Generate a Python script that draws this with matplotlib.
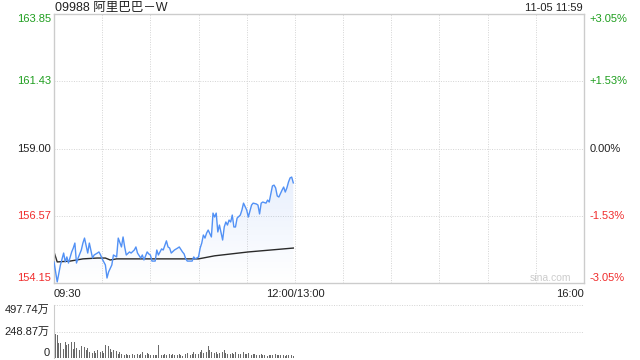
import numpy as np
import matplotlib
matplotlib.use("Agg")
import matplotlib.pyplot as plt
from matplotlib.path import Path
from matplotlib.patches import PathPatch
from matplotlib.transforms import blended_transform_factory

plt.rcParams['font.family'] = ['Liberation Sans', 'Noto Sans CJK SC']

# minutes after 09:30, lunch break squeezed out (12:00 and 13:00 share x=150)
minutes = [0, 2, 4, 6, 7, 8, 9, 11, 12, 13, 14, 15, 17, 18, 19, 21, 22, 24, 25, 27,
           28, 29, 30, 32, 33, 34, 36, 37, 39, 40, 42, 43, 44, 45, 47, 48, 50, 51, 52, 54,
           55, 56, 58, 59, 60, 61, 63, 64, 65, 67, 68, 70, 71, 72, 73, 75, 77, 78, 80, 81,
           82, 83, 86, 87, 88, 90, 91, 92, 93, 94, 95, 96, 98, 99, 100, 101, 102, 103, 105, 106,
           107, 108, 109, 110, 111, 112, 113, 114, 116, 117, 118, 120, 121, 123, 124, 126, 127, 128, 129, 130,
           132, 133, 134, 136, 137, 138, 139, 140, 142, 143, 144, 145, 146, 147, 148, 149]
prices = [154.91, 154.19, 154.80, 155.23, 154.91, 155.09, 154.87, 155.27, 155.41, 155.59,
          154.87, 155.05, 155.34, 155.59, 155.77, 155.23, 155.59, 155.05, 155.16, 155.23,
          155.27, 155.16, 155.02, 154.80, 154.33, 154.55, 154.80, 155.16, 155.09, 155.77,
          155.45, 155.81, 155.45, 155.16, 155.27, 155.23, 155.34, 155.45, 155.23, 155.05,
          155.16, 154.98, 155.27, 155.20, 155.16, 154.94, 154.94, 155.34, 155.16, 155.38,
          155.34, 155.67, 155.45, 155.41, 155.23, 155.34, 155.41, 155.45, 155.27, 155.20,
          155.02, 154.94, 154.94, 155.09, 155.02, 155.09, 155.41, 155.59, 155.88, 155.77,
          155.95, 156.06, 155.81, 156.67, 156.53, 156.67, 155.99, 156.24, 155.70, 156.17,
          156.35, 156.24, 156.42, 156.35, 156.60, 156.17, 156.17, 156.49, 156.60, 156.78,
          157.03, 156.78, 156.53, 156.96, 157.03, 157.00, 156.96, 156.64, 157.03, 157.07,
          157.03, 157.14, 157.07, 157.65, 157.68, 157.58, 157.29, 157.25, 157.50, 157.61,
          157.43, 157.58, 157.79, 157.94, 157.97, 157.76]

avg_minutes = [0, 2, 10, 18, 27, 32, 35, 39, 54, 90, 100, 121, 149]
avg_prices = [155.27, 154.91, 154.94, 155.02, 155.05, 155.05, 154.98, 155.02, 155.02, 155.02,
              155.13, 155.27, 155.41]

# volume per minute, in 万 shares
volumes = [497.74, 229, 219, 144, 141, 141, 88, 150, 119, 135,
           103, 150, 88, 150, 94, 103, 72, 110, 88, 103,
           72, 94, 56, 72, 47, 66, 47, 78, 47, 56,
           66, 47, 119, 135, 110, 88, 56, 72, 47, 66,
           41, 56, 34, 47, 25, 41, 31, 25, 47, 34,
           25, 31, 41, 25, 34, 56, 25, 31, 47, 41,
           25, 34, 25, 31, 25, 119, 41, 31, 25, 34,
           25, 31, 41, 25, 34, 25, 16, 25, 34, 25,
           16, 25, 34, 47, 25, 31, 41, 56, 34, 47,
           41, 56, 72, 47, 88, 56, 110, 72, 56, 72,
           47, 56, 34, 47, 41, 56, 72, 47, 34, 56,
           41, 47, 34, 56, 72, 41, 34, 47, 56, 41,
           34, 47, 31, 25, 41, 34, 25, 31, 25, 34,
           25, 31, 25, 16, 25, 31, 25, 56, 34, 25,
           31, 25, 34, 25, 16, 25, 31, 16, 25, 16]

price_ticks = [163.85, 161.43, 159.00, 156.57, 154.15]
pct_labels = ['+3.05%', '+1.53%', '0.00%', '-1.53%', '-3.05%']
tick_colors = ['#1f9e1f', '#1f9e1f', '#222222', '#f02c2c', '#f02c2c']
vol_ticks = [497.74, 248.87, 0]
vol_labels = ['497.74万', '248.87万', '0']
time_ticks = [0, 150, 330]
time_labels = ['09:30', '12:00/13:00', '16:00']

grid_kw = dict(color='#d4d4d4', linestyle=(0, (1, 1.5)), linewidth=0.7, zorder=0)
border = '#cccccc'

fig = plt.figure(figsize=(6.4, 3.6), dpi=100)
ax = fig.add_axes([54 / 640, 1 - 283 / 360, 530 / 640, 269 / 360])
axv = fig.add_axes([54 / 640, 1 - 358 / 360, 530 / 640, 53 / 360])

ymin, ymax = price_ticks[-1], price_ticks[0]

# gradient fill under the price line
verts = [(minutes[0], ymin)] + list(zip(minutes, prices)) + [(minutes[-1], ymin)]
clip = PathPatch(Path(verts), facecolor='none', edgecolor='none')
ax.add_patch(clip)
rgba = np.zeros((256, 1, 4))
rgba[..., 0], rgba[..., 1], rgba[..., 2] = 0.36, 0.56, 0.94
rgba[:, 0, 3] = np.linspace(0.14, 0.0, 256)
im = ax.imshow(rgba, extent=[minutes[0], minutes[-1], ymin, max(prices)],
               aspect='auto', origin='upper', zorder=1)
im.set_clip_path(clip)

ax.plot(minutes, prices, color='#5291f5', linewidth=1.0, zorder=3)
ax.plot(avg_minutes, avg_prices, color='#2a2a2a', linewidth=1.0, zorder=2)

ax.set_xlim(0, 330)
ax.set_ylim(ymin, ymax)
ax.set_xticks([])
ax.set_yticks([])
for s in ax.spines.values():
    s.set_color(border)
    s.set_linewidth(1)
for t in price_ticks[1:-1]:
    ax.axhline(t, **grid_kw)
for m in range(30, 330, 30):
    ax.axvline(m, **grid_kw)

tr = blended_transform_factory(ax.transAxes, ax.transData)
n = len(price_ticks)
for i, (p, pct, c) in enumerate(zip(price_ticks, pct_labels, tick_colors)):
    va = 'top' if i == 0 else ('bottom' if i == n - 1 else 'center')
    ax.text(-0.006, p, f'{p:.2f}', transform=tr, ha='right', va=va, fontsize=8, color=c)
    ax.text(1.01, p, pct, transform=tr, ha='left', va=va, fontsize=8, color=c)

trx = blended_transform_factory(ax.transData, ax.transAxes)
for m, lab, ha in zip(time_ticks, time_labels, ['left', 'center', 'right']):
    ax.text(m, -0.04, lab, transform=trx, ha=ha, va='center', fontsize=8, color='#222222')

ax.text(0.975, 0.02, 'sina.com', transform=ax.transAxes, ha='right', va='center',
        fontsize=7.5, color='#cccccc')

fig.text(55 / 640, 1 - 8 / 360, '09988 阿里巴巴－W', ha='left', va='center',
         fontsize=9, color='#222222')
fig.text(583 / 640, 1 - 8 / 360, '11-05 11:59', ha='right', va='center',
         fontsize=8, color='#222222')

# volume panel
axv.bar(range(len(volumes)), volumes, width=0.5, color='#6a6a6a', linewidth=0, zorder=2)
axv.set_xlim(0, 330)
axv.set_ylim(0, vol_ticks[0])
axv.set_xticks([])
axv.set_yticks([])
for k in ['top', 'right', 'bottom']:
    axv.spines[k].set_visible(False)
axv.spines['left'].set_color(border)
for t in vol_ticks[:2]:
    axv.axhline(t, **grid_kw)
trv = blended_transform_factory(axv.transAxes, axv.transData)
for i, (t, lab) in enumerate(zip(vol_ticks, vol_labels)):
    va = 'top' if i == 0 else ('bottom' if i == len(vol_ticks) - 1 else 'center')
    axv.text(-0.008, t, lab, transform=trv, ha='right', va=va, fontsize=8, color='#222222')

fig.savefig('out.png', dpi=100)
